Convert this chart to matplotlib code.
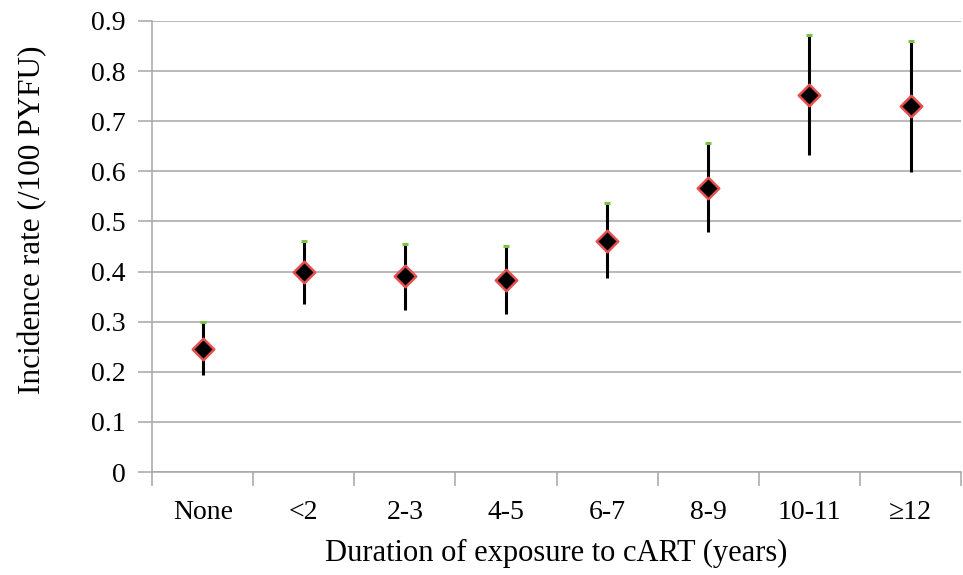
import matplotlib
matplotlib.use("Agg")
import matplotlib.pyplot as plt
import numpy as np

categories = ["None", "<2", "2-3", "4-5", "6-7", "8-9", "10-11", "\u226512"]
rate = [0.245, 0.400, 0.391, 0.383, 0.461, 0.567, 0.752, 0.730]
upper = [0.300, 0.462, 0.456, 0.451, 0.536, 0.656, 0.873, 0.861]
lower = [0.193, 0.335, 0.323, 0.315, 0.388, 0.479, 0.633, 0.599]
yticks = [0, 0.1, 0.2, 0.3, 0.4, 0.5, 0.6, 0.7, 0.8, 0.9]

plt.rcParams['font.family'] = ['Liberation Serif', 'DejaVu Serif']

fig = plt.figure(figsize=(9.63, 5.75), dpi=100)
ax = fig.add_axes([0.158, 0.179, 0.840, 0.7845])

x = np.arange(len(categories))
ax.set_xlim(-0.5, len(categories) - 0.5)
ax.set_ylim(0, 0.9)

grid_c = '#a6a6a6'
ax.set_yticks(yticks)
ax.set_yticklabels(["0" if v == 0 else f"{v:.1f}" for v in yticks])
ax.yaxis.grid(True, color=grid_c, linewidth=1.1)
ax.set_axisbelow(True)

ax.set_xticks(x)
ax.set_xticklabels(categories)
ax.set_xticks(np.arange(len(categories) + 1) - 0.5, minor=True)
ax.tick_params(axis='x', which='major', length=0, pad=20, labelsize=20)
ax.tick_params(axis='x', which='minor', length=10, color=grid_c, width=1.1)
ax.tick_params(axis='y', length=10, color=grid_c, width=1.1, labelsize=20, pad=9)

for s in ['top', 'right']:
    ax.spines[s].set_visible(False)
for s in ['left', 'bottom']:
    ax.spines[s].set_color(grid_c)
    ax.spines[s].set_linewidth(1.1)

ax.vlines(x, lower, upper, color='black', linewidth=2.2, zorder=3)
ax.scatter(x, upper, marker='_', s=20, color='#7cc242', linewidths=2.2, zorder=4)
ax.scatter(x, rate, marker='D', s=120, facecolor='black', edgecolor='#e8504f',
           linewidths=1.8, zorder=5)

ax.set_ylabel("Incidence rate (/100 PYFU)", fontsize=22.5)
ax.yaxis.set_label_coords(-0.13, 0.56)
ax.set_xlabel("Duration of exposure to cART (years)", fontsize=22, labelpad=10)

fig.savefig("out.png", dpi=100)
